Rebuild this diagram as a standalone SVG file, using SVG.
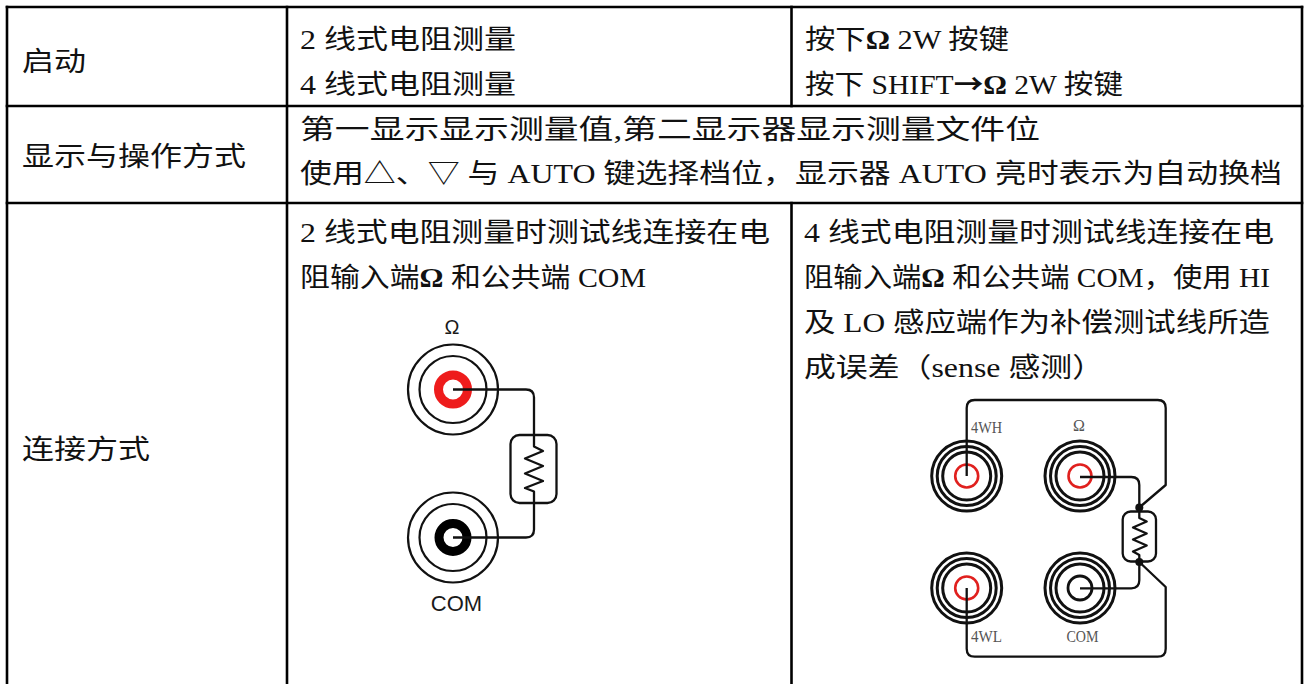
<svg xmlns="http://www.w3.org/2000/svg" width="1309" height="684" viewBox="0 0 1309 684">
<defs>
<style>
.grid{stroke:#000;stroke-width:2.6;fill:none;stroke-linecap:square}
.t{font-family:'Liberation Serif','Noto Sans CJK SC',serif;font-size:27px;fill:#111}
.b{font-weight:bold}
.arr{font-family:'Noto Sans CJK SC','DejaVu Sans',sans-serif;font-weight:bold}
.ring{fill:none;stroke:#111;stroke-width:2.2}
.ring4{fill:none;stroke:#111;stroke-width:3}
.wire{fill:none;stroke:#111;stroke-width:2.3;stroke-linejoin:round}
.l2{font-family:'Liberation Sans',Arial,sans-serif;fill:#1a1a1a;text-anchor:middle}
.l4{font-family:'Liberation Serif','Times New Roman',serif;font-size:16px;fill:#555}
</style>
</defs>
<rect width="1309" height="684" fill="#fff"/>

<g id="table-grid">
<line class="grid" x1="7" y1="7" x2="1302" y2="7"/>
<line class="grid" x1="7" y1="106" x2="1302" y2="106"/>
<line class="grid" x1="7" y1="203" x2="1302" y2="203"/>
<line class="grid" x1="7" y1="7" x2="7" y2="690"/>
<line class="grid" x1="287" y1="7" x2="287" y2="690"/>
<line class="grid" x1="1302" y1="7" x2="1302" y2="690"/>
<line class="grid" x1="791.5" y1="7" x2="791.5" y2="106"/>
<line class="grid" x1="791.5" y1="203" x2="791.5" y2="690"/>
</g>

<g id="row-start">
<text class="t" x="22" y="71" textLength="64" lengthAdjust="spacingAndGlyphs">启动</text>
<text class="t" x="300" y="49" textLength="216" lengthAdjust="spacingAndGlyphs">2 线式电阻测量</text>
<text class="t" x="300" y="94" textLength="216" lengthAdjust="spacingAndGlyphs">4 线式电阻测量</text>
<text class="t" x="805" y="49" textLength="204" lengthAdjust="spacingAndGlyphs">按下<tspan class="b">Ω</tspan> 2W 按键</text>
<text class="t" x="805" y="94" textLength="318" lengthAdjust="spacingAndGlyphs">按下 SHIFT<tspan class="arr">→</tspan><tspan class="b">Ω</tspan> 2W 按键</text>
</g>

<g id="row-display">
<text class="t" x="22" y="166" textLength="224" lengthAdjust="spacingAndGlyphs">显示与操作方式</text>
<text class="t" x="300" y="139" textLength="740" lengthAdjust="spacingAndGlyphs">第一显示显示测量值,第二显示器显示测量文件位</text>
<text class="t" x="300" y="183" textLength="982" lengthAdjust="spacingAndGlyphs">使用△、▽ 与 AUTO 键选择档位，显示器 AUTO 亮时表示为自动换档</text>
</g>

<g id="row-connect">
<text class="t" x="22" y="459" textLength="128" lengthAdjust="spacingAndGlyphs">连接方式</text>
<text class="t" x="300" y="242" textLength="470" lengthAdjust="spacingAndGlyphs">2 线式电阻测量时测试线连接在电</text>
<text class="t" x="300" y="287" textLength="346" lengthAdjust="spacingAndGlyphs">阻输入端<tspan class="b">Ω</tspan> 和公共端 COM</text>
<text class="t" x="804" y="242" textLength="470" lengthAdjust="spacingAndGlyphs">4 线式电阻测量时测试线连接在电</text>
<text class="t" x="804" y="287" textLength="466" lengthAdjust="spacingAndGlyphs">阻输入端<tspan class="b">Ω</tspan> 和公共端 COM，使用 HI</text>
<text class="t" x="804" y="332" textLength="466" lengthAdjust="spacingAndGlyphs">及 LO 感应端作为补偿测试线所造</text>
<text class="t" x="804" y="377" textLength="300" lengthAdjust="spacingAndGlyphs">成误差（sense 感测）</text>
</g>

<g id="diagram-2wire">
<text class="l2" x="452" y="334" font-size="20">Ω</text>
<g id="jack2-omega">
<circle class="ring" cx="453" cy="389.5" r="45"/>
<circle class="ring" cx="453" cy="389.5" r="33.5"/>
<circle cx="453" cy="389.5" r="14.5" fill="none" stroke="#ee1c1c" stroke-width="9"/>
</g>
<g id="jack2-com">
<circle class="ring" cx="453" cy="537.5" r="45"/>
<circle class="ring" cx="453" cy="537.5" r="33.5"/>
<circle cx="453" cy="537.5" r="14" fill="none" stroke="#000" stroke-width="9"/>
</g>
<g id="resistor2">
<rect x="510.5" y="435" width="46" height="68" rx="9" class="wire"/>
<path class="wire" d="M534,435 V446.5 L543,451 L525,458.5 L543,466 L525,473.5 L543,481 L525,488 L534,491.5 V503"/>
</g>
<text class="l2" x="456.5" y="611" font-size="22">COM</text>
</g>

<g id="diagram-4wire">
<text class="l4" x="971" y="433" textLength="31" lengthAdjust="spacingAndGlyphs">4WH</text>
<text class="l4" x="1079" y="431" text-anchor="middle">Ω</text>
<text class="l4" x="971" y="642" textLength="31" lengthAdjust="spacingAndGlyphs">4WL</text>
<text class="l4" x="1082.5" y="642" text-anchor="middle" textLength="32" lengthAdjust="spacingAndGlyphs">COM</text>
<g id="jack4-4wh">
<circle class="ring4" cx="966.7" cy="476" r="35"/>
<circle class="ring4" cx="966.7" cy="476" r="29.5"/>
<circle class="ring4" cx="966.7" cy="476" r="24"/>
<circle cx="966.7" cy="476" r="11.5" fill="none" stroke="#e0201e" stroke-width="2.6"/>
</g>
<g id="jack4-omega">
<circle class="ring4" cx="1080" cy="476" r="35"/>
<circle class="ring4" cx="1080" cy="476" r="29.5"/>
<circle class="ring4" cx="1080" cy="476" r="24"/>
<circle cx="1080" cy="476" r="11.5" fill="none" stroke="#e0201e" stroke-width="2.6"/>
</g>
<g id="jack4-4wl">
<circle class="ring4" cx="966.7" cy="588" r="35"/>
<circle class="ring4" cx="966.7" cy="588" r="29.5"/>
<circle class="ring4" cx="966.7" cy="588" r="24"/>
<circle cx="966.7" cy="588" r="11.5" fill="none" stroke="#e0201e" stroke-width="2.6"/>
</g>
<g id="jack4-com">
<circle class="ring4" cx="1080" cy="588" r="35"/>
<circle class="ring4" cx="1080" cy="588" r="29.5"/>
<circle class="ring4" cx="1080" cy="588" r="24"/>
<circle cx="1080" cy="588" r="12" fill="none" stroke="#111" stroke-width="2.8"/>
</g>
<g id="resistor4">
<rect x="1122.7" y="511.5" width="33.3" height="50" rx="8" class="wire"/>
<path class="wire" d="M1139.3,511.5 V518 L1146.7,521.5 L1133,527.5 L1146.7,533.5 L1133,539.5 L1146.7,545.5 L1133,551.5 L1139.3,555 V562"/>
<circle cx="1139.3" cy="507.5" r="4" fill="#111"/>
<circle cx="1139.3" cy="562" r="4" fill="#111"/>
</g>
</g>

<g id="connectors">
<path class="wire" d="M453,389.5 H526 Q534,389.5 534,397.5 V435"/>
<path class="wire" d="M534,503 V529.5 Q534,537.5 526,537.5 H453"/>
<path class="wire" d="M966.7,476 V408 Q966.7,400 974.7,400 H1157.7 Q1165.7,400 1165.7,408 V485 L1139.3,507.5"/>
<path class="wire" d="M1080,477 H1131.3 Q1139.3,477 1139.3,485 V511.5"/>
<path class="wire" d="M1080,588.3 H1131.3 Q1139.3,588.3 1139.3,580.3 V562"/>
<path class="wire" d="M966.7,588 V648.7 Q966.7,656.7 974.7,656.7 H1157.7 Q1165.7,656.7 1165.7,648.7 V587 L1139.3,562"/>
</g>
</svg>
